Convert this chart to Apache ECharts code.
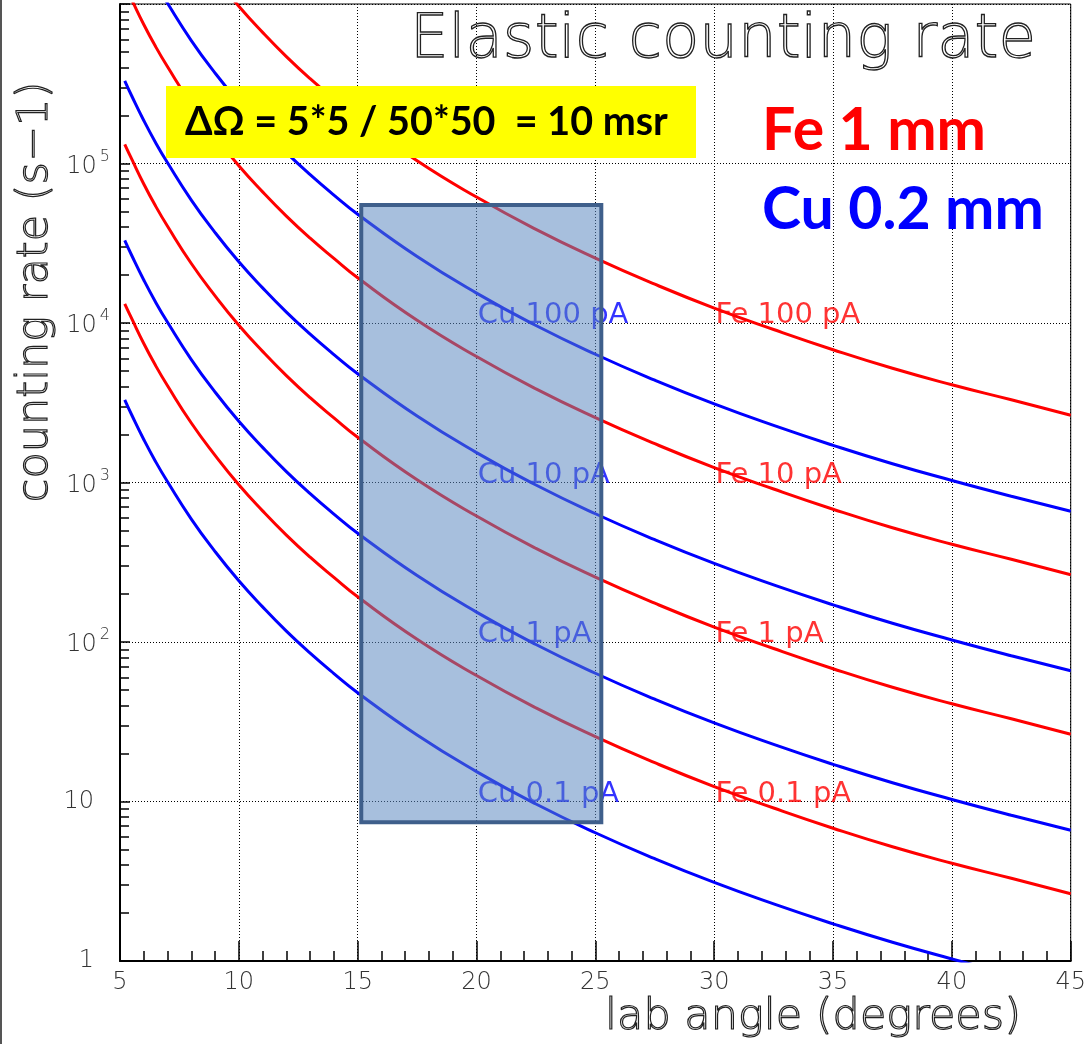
<!DOCTYPE html>
<html>
<head>
<meta charset="utf-8">
<title>Elastic counting rate</title>
<script src="https://cdn.jsdelivr.net/npm/echarts@6.0.0/dist/echarts.min.js"></script>
<style>
  html, body { margin: 0; padding: 0; background: #fff; }
  #chart { width: 1089px; height: 1044px; }
</style>
</head>
<body>
<div id="chart"></div>
<script>
// lab angle (degrees)
const angles = [5.2, 5.5, 6, 6.5, 7, 8, 9, 10, 11, 12, 13, 14, 15, 17.5, 20, 22.5, 25, 27.5, 30, 32.5, 35, 37.5, 40, 42.5, 45];

// counting rate (s-1), Cu 0.2 mm
const cu01 = [3300, 2640, 1860, 1350, 1010, 590, 369, 242, 166, 117, 85.1, 63.4, 48.1, 26.1, 15.4, 9.65, 6.37, 4.38, 3.11, 2.28, 1.71, 1.31, 1.03, 0.82, 0.66];
const cu1 = [33000, 26400, 18600, 13500, 10100, 5900, 3690, 2420, 1660, 1170, 851, 634, 481, 261, 154, 96.5, 63.7, 43.8, 31.1, 22.8, 17.1, 13.1, 10.3, 8.2, 6.6];
const cu10 = [330000, 264000, 186000, 135000, 101000, 59000, 36900, 24200, 16600, 11700, 8510, 6340, 4810, 2610, 1540, 965, 637, 438, 311, 228, 171, 131, 103, 82, 66];
const cu100 = [3300000, 2640000, 1860000, 1350000, 1010000, 590000, 369000, 242000, 166000, 117000, 85100, 63400, 48100, 26100, 15400, 9650, 6370, 4380, 3110, 2280, 1710, 1310, 1030, 820, 660];

// counting rate (s-1), Fe 1 mm
const fe01 = [13200, 10600, 7440, 5400, 4040, 2360, 1480, 968, 664, 468, 340, 254, 192, 104, 61.6, 38.6, 25.5, 17.5, 12.4, 9.1, 6.8, 5.2, 4.1, 3.3, 2.64];
const fe1 = [132000, 106000, 74400, 54000, 40400, 23600, 14800, 9680, 6640, 4680, 3400, 2540, 1920, 1040, 616, 386, 255, 175, 124, 91, 68, 52, 41, 33, 26.4];
const fe10 = [1320000, 1060000, 744000, 540000, 404000, 236000, 148000, 96800, 66400, 46800, 34000, 25400, 19200, 10400, 6160, 3860, 2550, 1750, 1240, 910, 680, 520, 410, 330, 264];
const fe100 = [13200000, 10600000, 7440000, 5400000, 4040000, 2360000, 1480000, 968000, 664000, 468000, 340000, 254000, 192000, 104000, 61600, 38600, 25500, 17500, 12400, 9100, 6800, 5200, 4100, 3300, 2640];

// curve labels: angle, rate, text
const cuLabels = [[20.05, 1e4, 'Cu 100 pA'], [20.05, 1e3, 'Cu 10 pA'], [20.05, 1e2, 'Cu 1 pA'], [20.05, 10, 'Cu 0.1 pA']];
const feLabels = [[30.05, 1e4, 'Fe 100 pA'], [30.05, 1e3, 'Fe 10 pA'], [30.05, 1e2, 'Fe 1 pA'], [30.05, 10, 'Fe 0.1 pA']];

// shaded acceptance box
const boxAngles = [15.15, 25.25];
const boxRates = [7.4, 55000];

const RED = '#ff0000';
const BLUE = '#0000ff';
const FONT = 'DejaVu Sans';

function curve(name, values, color) {
  return {
    name: name,
    type: 'line',
    data: angles.map((a, i) => [a, values[i]]),
    smooth: true,
    symbol: 'none',
    clip: true,
    lineStyle: { color: color, width: 3 },
    itemStyle: { color: color },
    z: 2
  };
}

function labelSeries(list, color) {
  return {
    type: 'scatter',
    symbolSize: 0,
    silent: true,
    z: 3,
    data: list.map(l => ({ name: l[2], value: [l[0], l[1]] })),
    label: {
      show: true,
      formatter: p => p.name,
      position: [0, 0],
      align: 'left',
      verticalAlign: 'bottom',
      offset: [0, 7],
      color: color,
      fontFamily: FONT,
      fontWeight: 'normal',
      fontSize: 29
    }
  };
}

const chart = echarts.init(document.getElementById('chart'), null, { renderer: 'canvas' });

const boxSeries = {
  type: 'line',
  data: [],
  markArea: {
    silent: true,
    z: 10,
    label: { show: false },
    itemStyle: {
      color: 'rgba(88,135,190,0.53)',
      borderColor: '#3f5f8b',
      borderWidth: 4
    },
    data: [[{ coord: [boxAngles[0], boxRates[1]] }, { coord: [boxAngles[1], boxRates[0]] }]]
  }
};

chart.setOption({
  animation: false,
  backgroundColor: '#fff',
  grid: {
    left: 120, right: 13, top: 4, bottom: 83,
    show: true, borderColor: '#000', borderWidth: 1
  },
  xAxis: {
    type: 'value',
    min: 5, max: 45, interval: 5,
    axisLine: { lineStyle: { color: '#000', width: 2 } },
    axisTick: { inside: true, length: 20, lineStyle: { color: '#000', width: 1.5 } },
    minorTick: { show: true, splitNumber: 5, length: 10, lineStyle: { color: '#000', width: 1.5 } },
    splitLine: { show: true, lineStyle: { color: '#000', type: [1, 2], width: 1 } },
    axisLabel: { color: '#333', fontFamily: FONT, fontWeight: 200, fontSize: 24, margin: 10 }
  },
  yAxis: {
    type: 'log', logBase: 10,
    min: 1, max: 1e6,
    axisLine: { show: true, lineStyle: { color: '#000', width: 2 } },
    axisTick: { inside: true, length: 10, lineStyle: { color: '#000', width: 1.5 } },
    minorTick: { show: true, splitNumber: 9, length: 9, lineStyle: { color: '#000', width: 1.5 } },
    splitLine: { show: true, lineStyle: { color: '#000', type: [1, 2], width: 1 } },
    axisLabel: {
      margin: 10,
      color: '#333',
      fontFamily: FONT,
      fontWeight: 200,
      formatter: function (v) {
        const n = Math.round(Math.log10(v));
        if (n === 0) return '{n|1}';
        if (n === 1) return '{n|10}';
        if (n >= 6) return '';
        return '{b|10}{s|' + n + '}';
      },
      rich: {
        n: { fontSize: 24, fontFamily: FONT, fontWeight: 200, color: '#333', padding: [0, 16, 0, 0] },
        b: { fontSize: 24, fontFamily: FONT, fontWeight: 200, color: '#333', lineHeight: 30, verticalAlign: 'bottom' },
        s: { fontSize: 16, fontFamily: FONT, fontWeight: 200, color: '#333', lineHeight: 12, verticalAlign: 'top', padding: [0, 0, 0, 3] }
      }
    }
  },
  series: [
    curve('Cu 0.1 pA', cu01, BLUE),
    curve('Fe 0.1 pA', fe01, RED),
    curve('Cu 1 pA', cu1, BLUE),
    curve('Fe 1 pA', fe1, RED),
    curve('Cu 10 pA', cu10, BLUE),
    curve('Fe 10 pA', fe10, RED),
    curve('Cu 100 pA', cu100, BLUE),
    curve('Fe 100 pA', fe100, RED),
    labelSeries(cuLabels, BLUE),
    labelSeries(feLabels, RED),
    boxSeries
  ],
  graphic: [
    { type: 'line', shape: { x1: 1, y1: 0, x2: 1, y2: 1044 }, style: { stroke: '#555', lineWidth: 2 }, z: 20 },
    {
      type: 'text', x: 410, y: 41, z: 20,
      style: {
        text: 'Elastic counting rate', fontFamily: FONT, fontWeight: 200, fontSize: 61,
        fill: 'none', stroke: '#222', lineWidth: 1.3, align: 'left', verticalAlign: 'middle'
      }
    },
    { type: 'rect', shape: { x: 166, y: 86, width: 530, height: 72 }, style: { fill: '#ffff00' }, z: 20 },
    {
      type: 'text', x: 185, y: 122, z: 21,
      style: {
        text: 'ΔΩ = 5*5 / 50*50  = 10 msr', fontFamily: 'Lato', fontWeight: 'bold', fontSize: 39.5,
        fill: '#000', align: 'left', verticalAlign: 'middle'
      }
    },
    {
      type: 'text', x: 762, y: 131, z: 20,
      style: { text: 'Fe 1 mm', fontFamily: 'Lato', fontWeight: 'bold', fontSize: 59, fill: RED, align: 'left', verticalAlign: 'middle' }
    },
    {
      type: 'text', x: 762, y: 210, z: 20,
      style: { text: 'Cu 0.2 mm', fontFamily: 'Lato', fontWeight: 'bold', fontSize: 59, fill: BLUE, align: 'left', verticalAlign: 'middle' }
    },
    {
      type: 'text', x: 36, y: 292, rotation: Math.PI / 2, z: 20,
      style: {
        text: 'counting rate (s\u22121)', fontFamily: FONT, fontWeight: 200, fontSize: 43,
        fill: 'none', stroke: '#222', lineWidth: 1.2, align: 'center', verticalAlign: 'middle'
      }
    },
    {
      type: 'text', x: 1021, y: 1018, z: 20,
      style: {
        text: 'lab angle (degrees)', fontFamily: FONT, fontWeight: 200, fontSize: 43,
        fill: 'none', stroke: '#222', lineWidth: 1.2, align: 'right', verticalAlign: 'middle'
      }
    }
  ]
});
</script>
</body>
</html>
